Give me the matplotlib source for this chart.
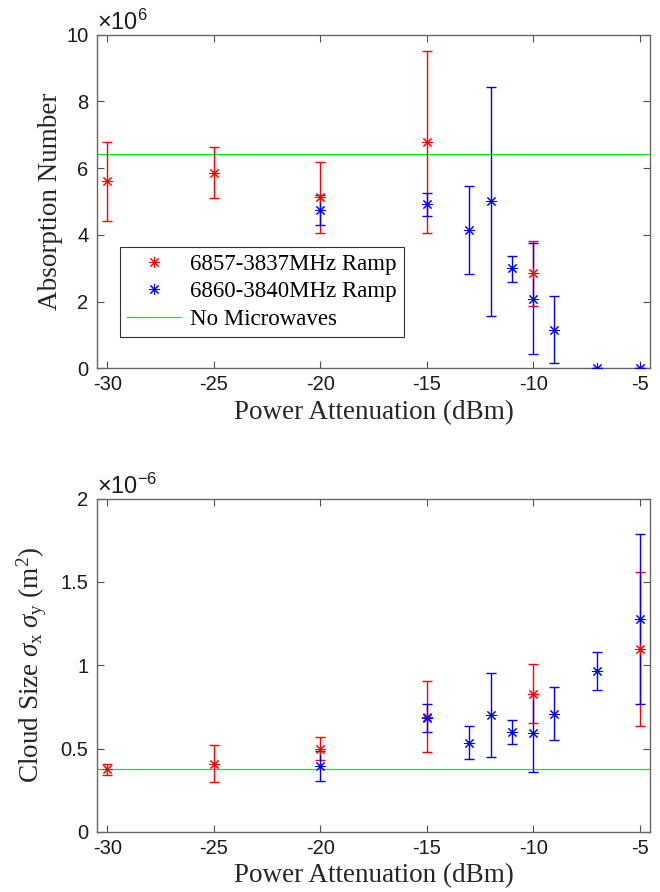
import matplotlib
matplotlib.use("Agg")
import matplotlib.pyplot as plt
from matplotlib.ticker import FuncFormatter

# power attenuation settings (dBm)
red_x = [-30, -25, -20, -15, -10]
blue_x = [-20, -15, -13, -12, -11, -10, -9, -7, -5]
red_x2 = [-30, -25, -20, -15, -10, -5]

# absorption number (atoms)
red_num = [5.60e6, 5.85e6, 5.12e6, 6.78e6, 2.85e6]
red_num_lo = [4.42e6, 5.10e6, 4.05e6, 4.05e6, 1.88e6]
red_num_hi = [6.78e6, 6.62e6, 6.18e6, 9.50e6, 3.82e6]
blue_num = [4.75e6, 4.92e6, 4.15e6, 5.02e6, 3.00e6, 2.08e6, 1.15e6, 0.0, 0.0]
blue_num_lo = [4.30e6, 4.58e6, 2.82e6, 1.58e6, 2.60e6, 0.42e6, 0.15e6, 0.0, 0.0]
blue_num_hi = [5.20e6, 5.25e6, 5.47e6, 8.43e6, 3.38e6, 3.75e6, 2.17e6, 0.0, 0.0]
no_mw_num = 6.42e6

# cloud size sigma_x * sigma_y (m^2)
red_size = [0.375e-6, 0.41e-6, 0.50e-6, 0.69e-6, 0.83e-6, 1.10e-6]
red_size_lo = [0.34e-6, 0.30e-6, 0.43e-6, 0.48e-6, 0.655e-6, 0.635e-6]
red_size_hi = [0.41e-6, 0.52e-6, 0.57e-6, 0.905e-6, 1.005e-6, 1.56e-6]
blue_size = [0.395e-6, 0.685e-6, 0.535e-6, 0.70e-6, 0.60e-6, 0.595e-6, 0.71e-6, 0.965e-6, 1.28e-6]
blue_size_lo = [0.305e-6, 0.60e-6, 0.435e-6, 0.45e-6, 0.53e-6, 0.36e-6, 0.55e-6, 0.85e-6, 0.765e-6]
blue_size_hi = [0.485e-6, 0.765e-6, 0.635e-6, 0.955e-6, 0.67e-6, 0.83e-6, 0.87e-6, 1.08e-6, 1.79e-6]
no_mw_size = 0.375e-6

red_label = "6857-3837MHz Ramp"
blue_label = "6860-3840MHz Ramp"
green_label = "No Microwaves"

plt.rcParams["axes.unicode_minus"] = False
plt.rcParams["mathtext.fontset"] = "custom"
plt.rcParams["mathtext.rm"] = "Liberation Serif"
plt.rcParams["mathtext.it"] = "Liberation Serif:italic"
plt.rcParams["mathtext.sf"] = "Liberation Sans"

RED = (1, 0, 0)
BLUE = (0, 0, 1)
GREEN = (0.0, 0.95, 0.0)
STAR = (8, 2, 0)
SERIF = "Liberation Serif"
SANS = "Liberation Sans"


def errs(vals, lo, hi):
    return [[v - l for v, l in zip(vals, lo)], [h - v for v, h in zip(vals, hi)]]


def draw(ax, xr, yr, lor, hir, xb, yb, lob, hib, base):
    ax.errorbar(xr, yr, yerr=errs(yr, lor, hir), fmt="none", ecolor=RED,
                elinewidth=1.0, capsize=3.6, capthick=1.0, zorder=3)
    ax.plot(xr, yr, ls="none", marker=STAR, ms=8, mew=0.75, color=RED,
            label=red_label, zorder=4)
    ax.errorbar(xb, yb, yerr=errs(yb, lob, hib), fmt="none", ecolor=BLUE,
                elinewidth=1.0, capsize=3.6, capthick=1.0, zorder=3)
    ax.plot(xb, yb, ls="none", marker=STAR, ms=8, mew=0.75, color=BLUE,
            label=blue_label, zorder=4)
    ax.axhline(base, color=GREEN, lw=0.9, label=green_label, zorder=2)

    ax.set_xlim(-30.5, -4.5)
    ax.set_xticks([-30, -25, -20, -15, -10, -5])
    ax.tick_params(direction="in", top=True, right=True, length=5, width=0.8,
                   color="0.3", labelsize=14.5, labelcolor="0.1", pad=6)
    ax.tick_params(axis="x", pad=5)
    for sp in ax.spines.values():
        sp.set_color("0.4")
        sp.set_linewidth(1.0)
    ax.set_xlabel("Power Attenuation (dBm)", fontsize=19.5, family=SERIF,
                  color="0.15", labelpad=4)


fig = plt.figure(figsize=(6.6, 8.92), dpi=100)
ax1 = fig.add_axes([0.1465, 0.5871, 0.8388, 0.374])
ax2 = fig.add_axes([0.1465, 0.0673, 0.8388, 0.3737])

draw(ax1, red_x, red_num, red_num_lo, red_num_hi,
     blue_x, blue_num, blue_num_lo, blue_num_hi, no_mw_num)
ax1.set_ylim(0, 10e6)
ax1.set_yticks([0, 2e6, 4e6, 6e6, 8e6, 10e6])
ax1.yaxis.set_major_formatter(FuncFormatter(lambda v, p: f"{v / 1e6:g}"))
for lab in ax1.get_xticklabels() + ax1.get_yticklabels():
    lab.set_fontfamily(SANS)
ax1.set_ylabel("Absorption Number", fontsize=19.5, family=SERIF,
               color="0.15", labelpad=2)
ax1.text(0.0, 1.0, r"$\mathsf{\times10^{6}}$", transform=ax1.transAxes,
         fontsize=17, color="0.1", ha="left", va="bottom")
leg = ax1.legend(loc="lower left", bbox_to_anchor=(0.043, 0.095), borderaxespad=0,
                 prop={"family": SERIF, "size": 16.5}, fancybox=False,
                 edgecolor="0.2", framealpha=1, handlelength=2.3,
                 handletextpad=0.45, labelspacing=0.28, borderpad=0.3)
leg.get_frame().set_linewidth(0.8)

draw(ax2, red_x2, red_size, red_size_lo, red_size_hi,
     blue_x, blue_size, blue_size_lo, blue_size_hi, no_mw_size)
ax2.set_ylim(0, 2e-6)
ax2.set_yticks([0, 0.5e-6, 1e-6, 1.5e-6, 2e-6])
ax2.yaxis.set_major_formatter(FuncFormatter(lambda v, p: f"{v * 1e6:g}"))
for lab in ax2.get_xticklabels() + ax2.get_yticklabels():
    lab.set_fontfamily(SANS)
ax2.set_ylabel(r"Cloud Size $\sigma_{\mathrm{x}}\;\sigma_{\mathrm{y}}$ (m$^{2}$)",
               fontsize=19.5, family=SERIF, color="0.15", labelpad=8)
ax2.text(0.0, 1.0, r"$\mathsf{\times10^{-6}}$", transform=ax2.transAxes,
         fontsize=17, color="0.1", ha="left", va="bottom")

fig.savefig("out.png", dpi=100)
